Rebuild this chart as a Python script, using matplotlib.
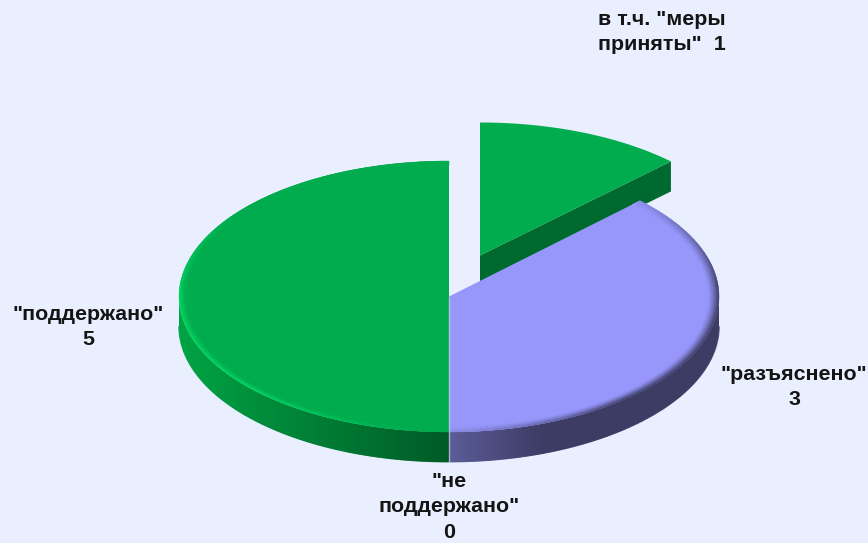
import numpy as np
import matplotlib
matplotlib.use("Agg")
import matplotlib.pyplot as plt
from matplotlib.collections import PolyCollection, LineCollection
from matplotlib.patches import Polygon

# ---- data (clockwise from 12 o'clock) ----
categories = ['в т.ч. "меры\nприняты"  1', '"разъяснено"\n3', '"не\nподдержано"\n0', '"поддержано"\n5']
label_values = [1, 3, 0, 5]
drawn_shares = [1, 3, 0, 4]   # share of the circle as seen in the picture
exploded = [True, False, False, False]

# ---- style / geometry ----
BG = '#E9EFFE'
CX, CY, RX, RY, DEPTH = 449.0, 296.5, 270.0, 135.5, 30.0
EXPLODE_DX, EXPLODE_DY, EXPLODE_RY = 31.0, -41.0, 133.0
top_cols = ['#00AC4E', '#9797FB', '#9797FB', '#00AC4E']
rim_cols = ['#00AC4E', '#3C3C64', '#3C3C64', '#06D765']
side_cols = [('#006A2E', '#006A2E'), ('#5C5C98', '#3C3C64'), ('#5C5C98', '#3C3C64'), ('#005A27', '#00A444')]
label_pos = [(662, 32), (794, 387), (449, 507), (88, 327)]

fig = plt.figure(figsize=(8.68, 5.43), dpi=100, facecolor=BG)
ax = fig.add_axes([0, 0, 1, 1], facecolor=BG)
ax.axis('off')


def rgb(c):
    return np.array(matplotlib.colors.to_rgb(c))


def xy(theta, s=1.0, cx=CX, cy=CY, ry=RY):
    return cx + s * RX * np.sin(theta), cy - s * ry * np.cos(theta)


def side_colour(x, c0, c1, cx):
    """Wall colour at position x: quick ramp on the right, linear across the left."""
    if x >= cx:
        f = np.minimum(np.abs(x - cx) / 95.0, 1.0)
    else:
        f = (cx - x) / RX
    return (1 - f) * rgb(c0) + f * rgb(c1)


def draw_side(t0, t1, c0, c1, cx, cy, z):
    """Front wall between t0 and t1, shaded along x."""
    ts = np.linspace(t0, t1, 240)
    x, y = xy(ts, cx=cx, cy=cy)
    verts = np.r_[np.c_[x, y + DEPTH], np.c_[x[::-1], y[::-1]]]
    x0, x1 = x.min(), x.max()
    xs = np.linspace(x0, x1, max(int(x1 - x0), 2))
    grad = np.array([[side_colour(v, c0, c1, cx) for v in xs]])
    im = ax.imshow(grad, extent=(x0, x1, y.max() + DEPTH + 1, y.min()), aspect='auto',
                   interpolation='bilinear', zorder=z)
    im.set_clip_path(Polygon(verts, closed=True, transform=ax.transData))
    # soft bottom outline to smooth the clipped edge
    pts = np.c_[x, y + DEPTH - 0.3]
    segs = np.stack([pts[:-1], pts[1:]], axis=1)
    cols = [side_colour(0.5 * (a + b), c0, c1, cx) for a, b in zip(x[:-1], x[1:])]
    ax.add_collection(LineCollection(segs, colors=cols, linewidths=1.0, zorder=z))


def draw_top(t0, t1, base, cx, cy, z, ry=RY):
    ts = np.linspace(t0, t1, 200)
    x, y = xy(ts, cx=cx, cy=cy, ry=ry)
    ax.fill(np.r_[cx, x], np.r_[cy, y], color=base, lw=0, zorder=z)


def draw_rim(t0, t1, base, rim, width, strength, cx, cy, z):
    """Soft bevel following the outer arc."""
    ts = np.linspace(t0, t1, 181)
    ss = np.linspace(1 - width, 1.0, 9)
    polys, cols = [], []
    for a, b in zip(ts[:-1], ts[1:]):
        amt = strength(0.5 * (a + b))
        for s0, s1 in zip(ss[:-1], ss[1:]):
            xa0, ya0 = xy(a, s0, cx, cy)
            xb0, yb0 = xy(b, s0, cx, cy)
            xa1, ya1 = xy(a, s1, cx, cy)
            xb1, yb1 = xy(b, s1, cx, cy)
            polys.append([(xa0, ya0), (xb0, yb0), (xb1, yb1), (xa1, ya1)])
            f = amt * ((0.5 * (s0 + s1) - (1 - width)) / width) ** 1.3
            cols.append((1 - f) * rgb(base) + f * rgb(rim))
    ax.add_collection(PolyCollection(polys, facecolors=cols, edgecolors=cols, linewidths=0.3, zorder=z))


def bump(lo, hi, ramp):
    def g(t):
        d = np.degrees(t)
        return float(np.clip(min(d - lo, hi - d) / ramp, 0, 1))
    return g


total = sum(drawn_shares)
edges = np.r_[0, np.cumsum(drawn_shares)] / total * 2 * np.pi

# exploded slice (behind the others)
for i, on in enumerate(exploded):
    if not on:
        continue
    t0, t1 = edges[i], edges[i + 1]
    cx, cy = CX + EXPLODE_DX, CY + EXPLODE_DY
    ex, ey = xy(t1, cx=cx, cy=cy, ry=EXPLODE_RY)
    ax.fill([cx, ex, ex, cx], [cy, ey, ey + DEPTH, cy + DEPTH], color=side_cols[i][0], lw=0, zorder=1)
    draw_top(t0, t1, top_cols[i], cx, cy, 2, ry=EXPLODE_RY)

# walls and faces of the main pie
for i, on in enumerate(exploded):
    if on or drawn_shares[i] == 0:
        continue
    t0, t1 = edges[i], edges[i + 1]
    f0, f1 = max(t0, np.pi / 2), min(t1, 3 * np.pi / 2)
    if f1 > f0:
        draw_side(f0, f1, side_cols[i][0], side_cols[i][1], CX, CY, 3)
    draw_top(t0, t1, top_cols[i], CX, CY, 4)

draw_rim(edges[1], edges[2], top_cols[1], rim_cols[1], 0.04, bump(40, 185, 45), CX, CY, 5)
draw_rim(edges[3], edges[4], top_cols[3], rim_cols[3], 0.03, bump(185, 310, 40), CX, CY, 5)

# pale seam between purple and green at the front
ax.plot([CX, CX], [CY, CY + RY + DEPTH], color='#C8CCE8', lw=1.0, alpha=0.75, zorder=6)

for text, (x, y) in zip(categories, label_pos):
    ax.text(x, y, text, ha='center', va='center', ma='center', family='Liberation Sans', weight='bold',
            fontsize=15.4, color='#141414', linespacing=1.42, zorder=8)

ax.set_xlim(0, 868)
ax.set_ylim(543, 0)
fig.savefig('out.png', dpi=100, facecolor=BG)
